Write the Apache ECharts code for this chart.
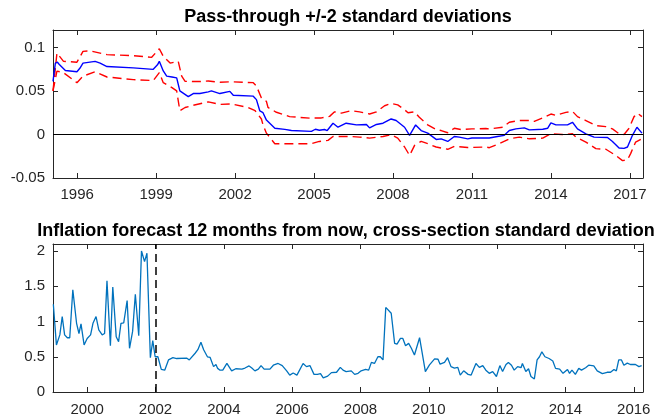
<!DOCTYPE html>
<html>
<head>
<meta charset="utf-8">
<title>Pass-through and inflation forecast dispersion</title>
<script src="https://cdn.jsdelivr.net/npm/echarts@6/dist/echarts.min.js"></script>
<style>
  html, body { margin: 0; padding: 0; background: #ffffff; }
  #chart { width: 656px; height: 420px; }
</style>
</head>
<body>
<div id="chart"></div>
<script>
// ---- Pass-through estimate (decimal years) ----
const midYears = [1995.08,1995.17,1995.25,1995.33,1995.55,1995.99,1996.10,1996.22,1996.68,1996.87,1997.13,1998.13,1998.89,1999.05,1999.12,1999.27,1999.40,1999.60,1999.78,1999.90,2000.22,2000.41,2000.66,2000.98,2001.10,2001.42,2001.80,2001.93,2002.69,2002.81,2002.94,2003.06,2003.19,2003.51,2003.89,2004.14,2004.90,2005.05,2005.20,2005.40,2005.50,2005.72,2005.91,2006.22,2006.61,2006.99,2007.11,2007.37,2007.62,2007.93,2008.12,2008.44,2008.63,2008.86,2009.07,2009.32,2009.64,2009.83,2010.08,2010.33,2010.52,2010.84,2011.00,2011.66,2011.97,2012.23,2012.42,2012.67,2012.99,2013.18,2013.69,2013.88,2014.00,2014.19,2014.63,2014.82,2015.01,2015.33,2015.64,2016.15,2016.34,2016.59,2016.78,2016.91,2017.10,2017.27,2017.46];
const midValues = [0.061,0.082,0.083,0.080,0.0735,0.072,0.076,0.082,0.084,0.082,0.078,0.0765,0.0748,0.080,0.084,0.073,0.067,0.066,0.065,0.050,0.0435,0.047,0.047,0.049,0.050,0.047,0.0495,0.045,0.044,0.040,0.027,0.025,0.0165,0.0072,0.0058,0.0045,0.0035,0.006,0.0048,0.0057,0.0045,0.0129,0.0083,0.0129,0.011,0.0115,0.0076,0.0115,0.0129,0.0178,0.016,0.0083,-0.001,0.011,0.0045,0.0015,-0.0057,-0.005,-0.008,-0.0023,-0.003,-0.005,-0.004,-0.004,-0.0023,-0.001,0.0045,0.0064,0.0076,0.0053,0.006,0.0072,0.0133,0.011,0.011,0.014,0.0064,0.0008,-0.003,-0.0034,-0.008,-0.0155,-0.016,-0.0144,-0.001,0.0083,0.0015];

// ---- upper band (+2 s.d.) ----
const upperYears = [1995.08,1995.23,1995.48,1995.99,1996.22,1996.49,1996.87,1997.13,1998.13,1998.83,1999.12,1999.27,1999.53,1999.84,1999.97,2000.10,2000.66,2000.98,2001.42,2001.86,2002.69,2002.81,2003.00,2003.19,2003.25,2003.57,2004.07,2004.84,2005.28,2005.59,2005.78,2006.04,2006.41,2006.73,2007.11,2007.37,2007.68,2007.93,2008.18,2008.44,2008.57,2008.82,2009.00,2009.32,2009.64,2009.83,2010.08,2010.33,2010.58,2011.00,2011.53,2011.66,2012.17,2012.42,2012.80,2013.18,2013.37,2013.69,2014.00,2014.19,2014.57,2014.82,2015.01,2015.33,2015.71,2016.09,2016.34,2016.59,2016.78,2016.97,2017.16,2017.29,2017.46];
const upperValues = [0.050,0.0935,0.084,0.083,0.0955,0.096,0.0935,0.0917,0.0905,0.0886,0.0985,0.0898,0.082,0.084,0.067,0.061,0.0608,0.0614,0.060,0.0605,0.0595,0.0557,0.042,0.038,0.031,0.0255,0.0205,0.0188,0.019,0.0208,0.026,0.0245,0.0273,0.026,0.0235,0.026,0.033,0.0356,0.034,0.0284,0.025,0.026,0.0197,0.011,0.0057,0.0045,0.002,0.0072,0.0057,0.0064,0.0068,0.0064,0.0083,0.014,0.016,0.016,0.015,0.019,0.0235,0.022,0.0254,0.0265,0.0205,0.016,0.0102,0.009,0.0064,0.0008,0.0,0.0072,0.0205,0.0243,0.0205];

// ---- lower band (-2 s.d.) ----
const lowerYears = [1995.08,1995.23,1995.48,1995.99,1996.22,1996.68,1997.13,1998.13,1998.89,1999.12,1999.27,1999.60,1999.78,1999.90,2000.10,2000.41,2000.98,2001.42,2001.86,2002.50,2002.76,2003.00,2003.06,2003.19,2003.51,2004.27,2004.90,2005.20,2005.53,2005.72,2006.16,2006.35,2006.73,2007.11,2007.62,2007.93,2008.18,2008.44,2008.63,2008.82,2009.07,2009.32,2009.64,2010.08,2010.33,2010.84,2011.53,2011.66,2012.04,2012.42,2012.80,2013.18,2013.69,2014.00,2014.44,2014.82,2014.95,2015.33,2015.71,2016.09,2016.46,2016.72,2016.91,2017.03,2017.22,2017.46];
const lowerValues = [0.050,0.0727,0.071,0.0595,0.067,0.072,0.066,0.063,0.062,0.071,0.0595,0.0538,0.050,0.0273,0.031,0.0335,0.0375,0.0345,0.035,0.031,0.0273,0.0178,0.011,0.0015,-0.0106,-0.0106,-0.0106,-0.008,-0.0068,-0.0023,-0.0023,-0.0023,-0.003,-0.0042,-0.0023,-0.0004,-0.0042,-0.0144,-0.024,-0.0125,-0.008,-0.0106,-0.0144,-0.017,-0.0137,-0.015,-0.0144,-0.0152,-0.0106,-0.005,-0.003,-0.005,-0.0042,0.0008,0.0,0.0008,-0.003,-0.0087,-0.0163,-0.017,-0.024,-0.030,-0.029,-0.022,-0.0087,-0.005];

// ---- cross-section s.d. of 12-month-ahead inflation forecasts ----
const sdYears = [1999.01,1999.10,1999.20,1999.27,1999.34,1999.42,1999.49,1999.58,1999.69,1999.76,1999.82,1999.91,2000.00,2000.10,2000.17,2000.26,2000.34,2000.44,2000.51,2000.58,2000.68,2000.75,2000.85,2000.92,2000.99,2001.07,2001.17,2001.24,2001.33,2001.41,2001.51,2001.59,2001.68,2001.75,2001.85,2001.92,2001.99,2002.07,2002.17,2002.27,2002.38,2002.51,2002.62,2002.92,2002.99,2003.16,2003.24,2003.33,2003.41,2003.52,2003.60,2003.70,2003.77,2003.82,2003.89,2003.97,2004.09,2004.23,2004.35,2004.53,2004.62,2004.74,2004.82,2004.91,2005.01,2005.09,2005.18,2005.35,2005.45,2005.59,2005.71,2005.84,2005.93,2006.03,2006.14,2006.32,2006.42,2006.52,2006.64,2006.74,2006.83,2006.91,2007.04,2007.15,2007.30,2007.41,2007.49,2007.58,2007.73,2007.83,2007.93,2008.02,2008.15,2008.24,2008.32,2008.41,2008.51,2008.58,2008.66,2008.74,2008.90,2009.00,2009.07,2009.17,2009.24,2009.32,2009.41,2009.49,2009.58,2009.73,2009.90,2010.02,2010.17,2010.27,2010.33,2010.46,2010.55,2010.65,2010.75,2010.85,2010.92,2011.02,2011.15,2011.24,2011.38,2011.48,2011.58,2011.67,2011.77,2011.87,2011.98,2012.08,2012.16,2012.26,2012.33,2012.42,2012.50,2012.60,2012.70,2012.74,2012.84,2012.92,2012.99,2013.09,2013.17,2013.24,2013.31,2013.40,2013.52,2013.63,2013.71,2013.83,2013.93,2014.06,2014.12,2014.19,2014.29,2014.39,2014.47,2014.59,2014.68,2014.83,2014.93,2015.08,2015.22,2015.32,2015.42,2015.49,2015.56,2015.64,2015.71,2015.81,2015.90,2016.05,2016.15,2016.23];
const sdValues = [1.245,0.668,0.81,1.07,0.81,0.77,0.77,1.45,0.975,0.83,0.966,0.668,0.76,0.81,0.975,1.07,0.88,0.81,0.83,1.577,0.657,1.49,0.785,0.714,0.975,0.98,1.297,0.62,0.86,1.387,0.80,2.0,1.85,1.97,0.487,0.73,0.50,0.50,0.32,0.31,0.455,0.487,0.475,0.48,0.455,0.55,0.60,0.705,0.60,0.50,0.49,0.36,0.39,0.335,0.31,0.31,0.405,0.30,0.33,0.325,0.34,0.37,0.34,0.30,0.325,0.375,0.325,0.325,0.38,0.405,0.375,0.30,0.24,0.27,0.24,0.405,0.36,0.375,0.25,0.25,0.26,0.20,0.225,0.275,0.28,0.35,0.31,0.29,0.30,0.25,0.265,0.30,0.32,0.31,0.42,0.405,0.50,0.50,0.455,1.20,1.117,0.69,0.68,0.76,0.76,0.657,0.69,0.62,0.525,0.77,0.29,0.385,0.47,0.465,0.395,0.42,0.487,0.36,0.34,0.35,0.24,0.30,0.25,0.24,0.405,0.35,0.375,0.31,0.265,0.29,0.22,0.375,0.29,0.39,0.42,0.38,0.31,0.36,0.345,0.405,0.29,0.33,0.22,0.185,0.455,0.50,0.57,0.50,0.475,0.44,0.335,0.325,0.265,0.32,0.265,0.31,0.25,0.335,0.31,0.345,0.38,0.37,0.30,0.26,0.28,0.28,0.32,0.30,0.455,0.455,0.38,0.41,0.39,0.39,0.36,0.375];

// ---- axis ticks and ranges ----
const topYearTicks = [1996, 1999, 2002, 2005, 2008, 2011, 2014, 2017];
const topValueTicks = [-0.05, 0, 0.05, 0.1];
const bottomYearTicks = [2000, 2002, 2004, 2006, 2008, 2010, 2012, 2014, 2016];
const bottomValueTicks = [0, 0.5, 1, 1.5, 2];
const topXRange = [1995.08, 2017.5];
const topYRange = [-0.05, 0.12];
const bottomXRange = [1999.0, 2016.27];
const bottomYRange = [0, 2.1];
const breakYear = 2002;

const topTitle = 'Pass-through +/-2 standard deviations';
const bottomTitle = 'Inflation forecast 12 months from now, cross-section standard deviation';

const FONT = '"Liberation Sans", Arial, Helvetica, sans-serif';
const AXIS_COLOR = '#262626';

function pairs(xs, ys) {
  return xs.map((x, i) => [x, ys[i]]);
}

// one side of a boxed axes frame: labelled (bottom/left) or bare (top/right)
function makeAxis(gridIndex, position, range, ticks, labelled, margin) {
  return {
    type: 'value',
    gridIndex: gridIndex,
    position: position,
    min: range[0],
    max: range[1],
    axisLine: { show: true, onZero: false, lineStyle: { color: AXIS_COLOR, width: 1 } },
    axisTick: {
      show: true, inside: true, length: 5,
      customValues: ticks,
      lineStyle: { color: AXIS_COLOR, width: 1 }
    },
    axisLabel: {
      show: labelled,
      customValues: ticks,
      margin: margin,
      color: AXIS_COLOR,
      fontFamily: FONT,
      fontSize: 15,
      formatter: v => String(v)
    },
    splitLine: { show: false }
  };
}

const chart = echarts.init(document.getElementById('chart'), null, { renderer: 'canvas' });

chart.setOption({
  backgroundColor: '#ffffff',
  animation: false,
  grid: [
    { left: 53, right: 13, top: 30, height: 148 },
    { left: 53, right: 13, top: 244, height: 148 }
  ],
  xAxis: [
    makeAxis(0, 'bottom', topXRange, topYearTicks, true, 9),
    makeAxis(0, 'top', topXRange, topYearTicks, false, 0),
    makeAxis(1, 'bottom', bottomXRange, bottomYearTicks, true, 10),
    makeAxis(1, 'top', bottomXRange, bottomYearTicks, false, 0)
  ],
  yAxis: [
    makeAxis(0, 'left', topYRange, topValueTicks, true, 8),
    makeAxis(0, 'right', topYRange, topValueTicks, false, 0),
    makeAxis(1, 'left', bottomYRange, bottomValueTicks, true, 8),
    makeAxis(1, 'right', bottomYRange, bottomValueTicks, false, 0)
  ],
  graphic: [
    {
      type: 'text', x: 348, y: 17,
      style: { text: topTitle, font: 'bold 18px ' + FONT, fill: '#000000', textAlign: 'center', textVerticalAlign: 'middle' }
    },
    {
      type: 'text', x: 346, y: 231,
      style: { text: bottomTitle, font: 'bold 18px ' + FONT, fill: '#000000', textAlign: 'center', textVerticalAlign: 'middle' }
    }
  ],
  series: [
    {
      name: 'upper', type: 'line', xAxisIndex: 0, yAxisIndex: 0,
      data: pairs(upperYears, upperValues),
      showSymbol: false, silent: true,
      lineStyle: { color: '#ff0000', width: 1.4, type: [9, 5] }
    },
    {
      name: 'lower', type: 'line', xAxisIndex: 0, yAxisIndex: 0,
      data: pairs(lowerYears, lowerValues),
      showSymbol: false, silent: true,
      lineStyle: { color: '#ff0000', width: 1.4, type: [9, 5] }
    },
    {
      name: 'pass-through', type: 'line', xAxisIndex: 0, yAxisIndex: 0,
      data: pairs(midYears, midValues),
      showSymbol: false, silent: true,
      lineStyle: { color: '#0000ff', width: 1.4 },
      markLine: {
        silent: true, symbol: 'none', animation: false,
        label: { show: false },
        lineStyle: { color: '#000000', width: 1.2, type: 'solid' },
        data: [{ yAxis: 0 }]
      }
    },
    {
      name: 'forecast s.d.', type: 'line', xAxisIndex: 2, yAxisIndex: 2,
      data: pairs(sdYears, sdValues),
      showSymbol: false, silent: true,
      lineStyle: { color: '#0072bd', width: 1.3 },
      markLine: {
        silent: true, symbol: 'none', animation: false,
        label: { show: false },
        lineStyle: { color: '#000000', width: 1.5, type: [8, 5] },
        data: [{ xAxis: breakYear }]
      }
    }
  ]
});
</script>
</body>
</html>
